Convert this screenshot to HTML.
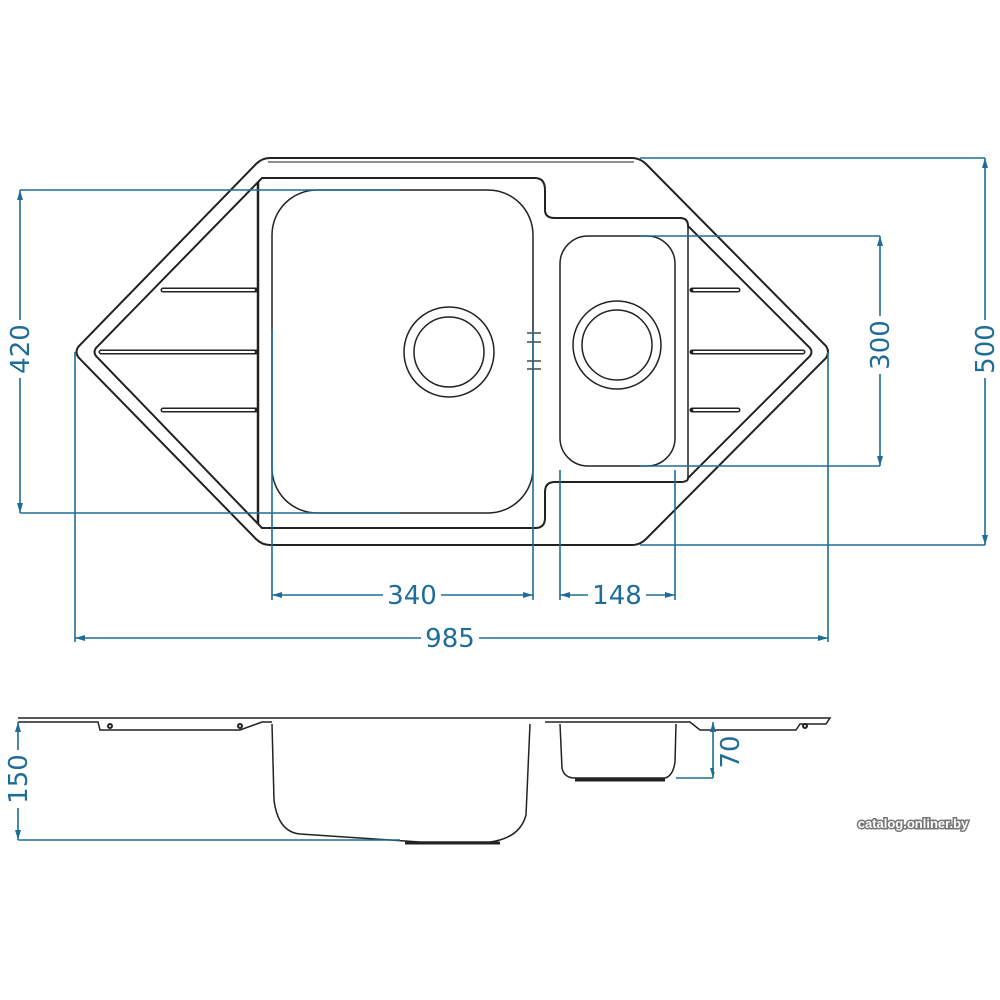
<!DOCTYPE html>
<html><head><meta charset="utf-8"><style>body{margin:0;background:#fff}svg{display:block}</style></head><body>
<svg width="1000" height="1000" viewBox="0 0 1000 1000" xmlns="http://www.w3.org/2000/svg">
<defs>
<marker id="a" viewBox="0 0 10 6" refX="10" refY="3" markerWidth="10" markerHeight="6" markerUnits="userSpaceOnUse" orient="auto-start-reverse"><path d="M0,0 L10,3 L0,6 Z" fill="#1f6d97"/></marker>
</defs>
<g fill="none" stroke="#222" stroke-width="2">
<path d="M270,158 L632,158 Q640,158 646,164 L826,346 Q830,352 826,358 L646,539 Q640,545 632,545 L270,545 Q262,545 256,539 L79,358 Q74,352 79,346 L256,164 Q262,158 270,158 Z"/>
<path d="M268,162 L634,162" stroke-width="1"/>
<path d="M262,178 L535,178 Q545,178 545,190 L545,210 Q545,218 555,218 L680,218 Q688,218 688,226 L810,348 Q813,352 810,356 L688,478 Q688,482 680,482 L555,482 Q545,482 545,492 L545,518 Q545,528 535,528 L262,528 L96,356 Q93,352 96,348 Z"/>
<path d="M258,182 L258,524" stroke-width="2.5"/>
<path d="M688,226 L688,478" stroke-width="1.5"/>
<g stroke-width="5" stroke-linecap="round"><path d="M163,290 L256,290 M101,352 L256,352 M163,410 L256,410 M692,290 L738,290 M692,352 L803,352 M692,410 L738,410"/></g>
<g stroke="#fff" stroke-width="2" stroke-linecap="round"><path d="M163,290 L254,290 M101,352 L254,352 M163,410 L254,410 M694,290 L738,290 M694,352 L803,352 M694,410 L738,410"/></g>
<rect x="272" y="190" width="261" height="323" rx="45" stroke-width="1.5"/>
<circle cx="449" cy="352" r="45" stroke-width="1.5"/><circle cx="449" cy="352" r="35" stroke-width="1.5"/>
<rect x="560" y="236" width="115" height="230" rx="28" stroke-width="1.5"/>
<circle cx="617" cy="345" r="44" stroke-width="1.5"/><circle cx="617" cy="345" r="35" stroke-width="1.5"/>
<path d="M527,333 H541 M527,342 H541 M527,361 H541 M527,369 H541" stroke-width="1.3"/>
<path d="M18,718 L830,718 L826,724 L800,724 L796,730 L700,730 L690,722 L545,722" stroke-width="1.5"/>
<path d="M18,722 L98,722 L100,730 L240,730 L262,722 L272,722" stroke-width="1.5"/>
<path d="M272,724 L274,800 Q278,832 300,834 L420,842 L490,842 Q520,838 526,815 L530,724" stroke-width="1.5"/>
<path d="M405,843 L500,843" stroke-width="3"/>
<path d="M560,724 L562,768 Q564,778 575,778 L665,778 Q673,776 675,762 L676,724" stroke-width="1.5"/>
<path d="M575,780 L665,780" stroke-width="3"/>
<circle cx="110" cy="726" r="2"/><circle cx="240" cy="726" r="2"/><circle cx="805" cy="726" r="2"/>
</g>
<g stroke="#1f6d97" stroke-width="1.6" fill="none">
<path d="M20,190 H400 M20,513 H400 M640,158 H985 M640,545 H985 M640,236 H880 M640,466 H880"/>
<path d="M272,330 V600 M533,330 V600 M560,470 V600 M675,470 V600 M75,352 V642 M828,352 V642"/>
<path d="M18,840 H400 M676,778 H713"/>
<g marker-start="url(#a)" marker-end="url(#a)">
<path d="M20,190 V513"/><path d="M985,158 V545"/><path d="M880,236 V466"/>
<path d="M272,595 H533"/><path d="M560,595 H675"/><path d="M75,638 H828"/>
<path d="M18,722 V840"/><path d="M713,722 V778"/>
</g>
</g>
<g fill="#1f6d97" font-family="DejaVu Sans, Liberation Sans, sans-serif" font-size="26" text-anchor="middle">
<rect x="383" y="580" width="58" height="28" fill="#fff"/><text x="412" y="604">340</text>
<rect x="588" y="580" width="58" height="28" fill="#fff"/><text x="617" y="604">148</text>
<rect x="421" y="624" width="58" height="28" fill="#fff"/><text x="450" y="647">985</text>
<rect x="6" y="320" width="28" height="58" fill="#fff"/><text transform="translate(29,349) rotate(-90)">420</text>
<rect x="971" y="320" width="28" height="58" fill="#fff"/><text transform="translate(994,349) rotate(-90)">500</text>
<rect x="866" y="316" width="28" height="58" fill="#fff"/><text transform="translate(889,345) rotate(-90)">300</text>
<rect x="4" y="750" width="28" height="58" fill="#fff"/><text transform="translate(27,779) rotate(-90)">150</text>
<rect x="714" y="732" width="28" height="40" fill="#fff"/><text transform="translate(739,752) rotate(-90)">70</text>
</g>
<text x="913" y="828" text-anchor="middle" font-family="Liberation Sans, sans-serif" font-size="13" font-weight="bold" fill="#fff" stroke="#777" stroke-width="3" paint-order="stroke">catalog.onliner.by</text>
</svg>
</body></html>
